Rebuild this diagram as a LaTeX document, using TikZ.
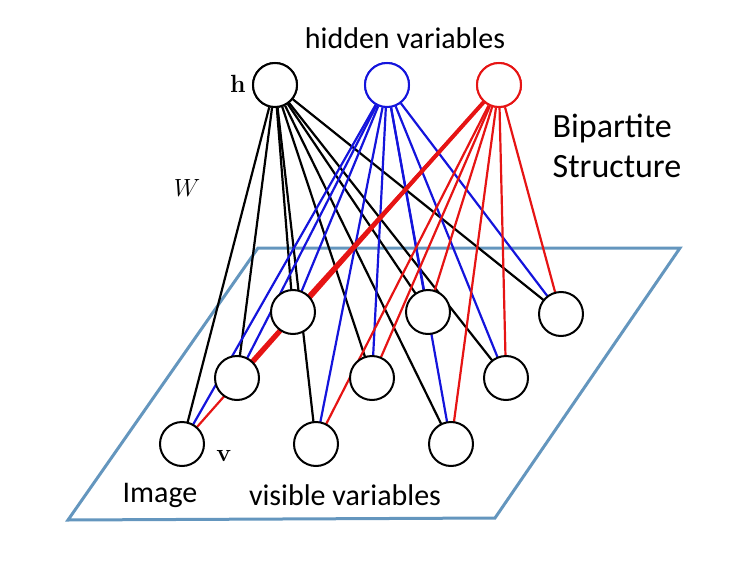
\documentclass[tikz,border=0pt]{standalone}
\usepackage[no-math]{fontspec}
\setmainfont{Carlito}
\definecolor{planec}{RGB}{100,150,190}
\definecolor{hblue}{RGB}{20,20,220}
\definecolor{hred}{RGB}{230,20,20}
\begin{document}
\begin{tikzpicture}[x=1pt,y=-1pt,
  unit/.style={circle,draw=#1,fill=white,line width=2pt,minimum size=44pt,inner sep=0pt},
  unit/.default=black,
  lab/.style={font=\fontsize{30}{34}\selectfont,align=left},
  conn/.style={line width=2.2pt,draw=#1}]
\useasboundingbox (0,0) rectangle (734,570);
\draw[planec,line width=3pt] (258,248) -- (680,248) -- (495,518) -- (68,520) -- cycle;
\coordinate (v1) at (293,312);\coordinate (v2) at (428,312);\coordinate (v3) at (561,314);
\coordinate (v4) at (237,378);\coordinate (v5) at (372,378);\coordinate (v6) at (506,378);
\coordinate (v7) at (182,444);\coordinate (v8) at (316,444);\coordinate (v9) at (451,444);
\node[unit] (hk) at (275,85) {};
\node[unit=hblue] (hb) at (387,85) {};
\node[unit=hred] (hr) at (499,85) {};
\foreach \h/\c in {hk/black,hb/hblue,hr/hred}{
  \foreach \v in {v1,v2,v3,v4,v5,v6,v7,v8,v9}{
    \draw[conn=\c] (\h) -- (\v);
  }
}
\draw[conn=hred,line width=4pt] (hr) -- (v4);
\foreach \v in {v1,v2,v3,v4,v5,v6,v7,v8,v9}{
  \node[unit] (n\v) at (\v) {};
}
\node[unit] at (275,85) {};
\node[unit=hblue] at (387,85) {};
\node[unit=hred] at (499,85) {};
\node (lh) at (238,84) {\fontsize{38}{40}\selectfont$\mathbf{h}$};
\node[lab] (lhid) at (405,38) {hidden variables};
\node (lw) at (187,188) {\fontsize{40}{42}\selectfont$W$};
\node[lab,font=\fontsize{34}{40}\selectfont] (lbs) at (617,146) {Bipartite\\Structure};
\node (lv) at (224,456) {\fontsize{38}{40}\selectfont$\mathbf{v}$};
\node[lab] (limg) at (160,495) {Image};
\node[lab] (lvis) at (345,495) {visible variables};
\end{tikzpicture}
\end{document}
